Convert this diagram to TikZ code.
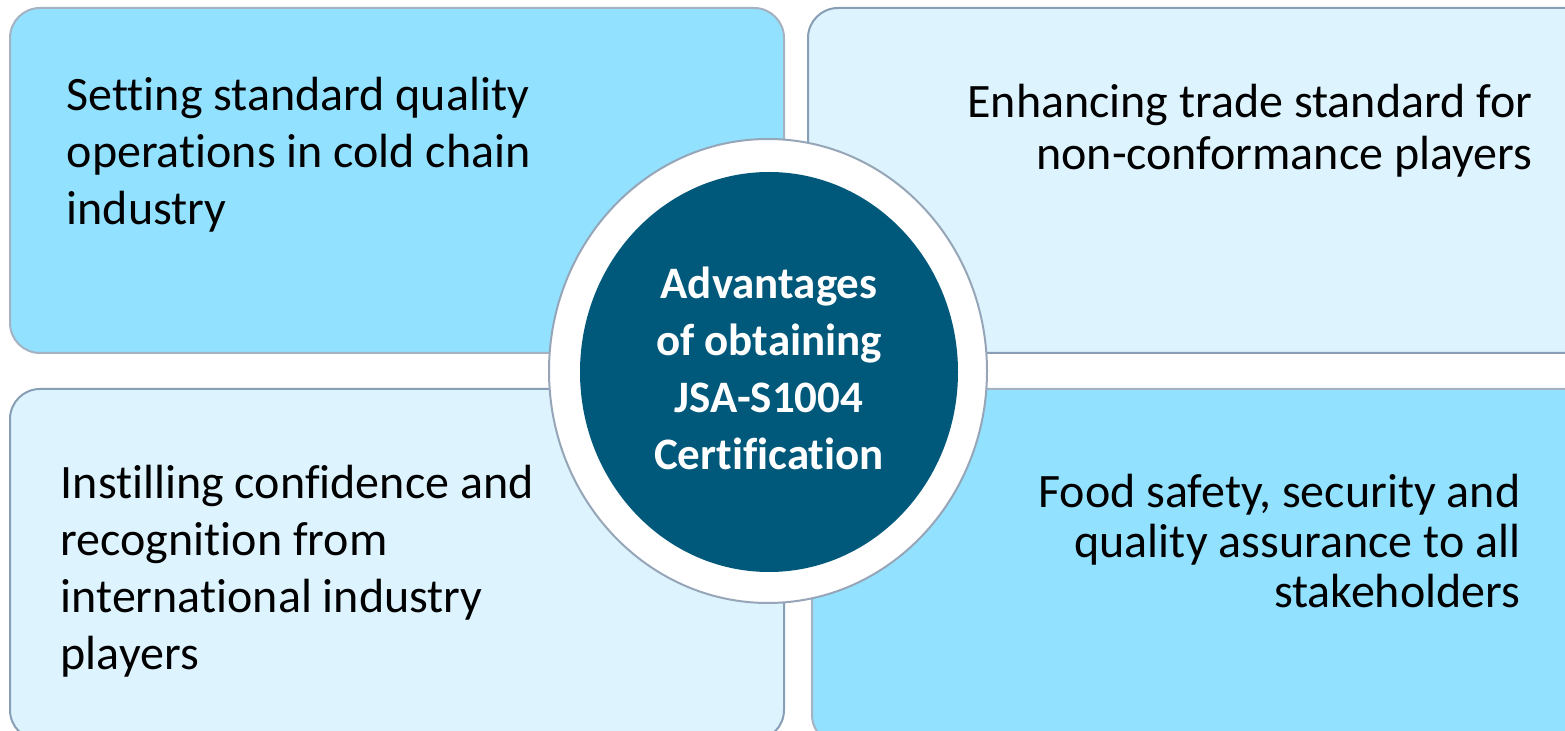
\documentclass[tikz,border=0pt]{standalone}
\usepackage{fontspec}
\setmainfont{Carlito}[Ligatures={NoCommon}]

\tikzset{every picture/.style={line width=0.75pt}}

\begin{document}
\begin{tikzpicture}[x=0.5pt,y=0.5pt,yscale=-1,xscale=1,
  boxstrong/.style={draw={rgb, 255:red, 164; green, 178; blue, 194}, fill={rgb, 255:red, 146; green, 225; blue, 255}, line width=1pt, rounded corners=15pt},
  boxpale/.style={draw={rgb, 255:red, 136; green, 158; blue, 180}, fill={rgb, 255:red, 221; green, 244; blue, 255}, line width=1pt, rounded corners=15pt},
  boxtext/.style={inner sep=0pt, align=left, font=\fontsize{24}{28.5}\selectfont},
  boxtextr/.style={inner sep=0pt, align=right, font=\fontsize{24}{26}\selectfont}]
%uncomment if require:
\path (0,0) rectangle (1565,731);
\clip (0,0) rectangle (1565,731);

%Shape: Rectangle [id:top left]
\draw [boxstrong] (10,8) rectangle (784,353);
%Shape: Rectangle [id:top right]
\draw [boxpale] (808,8) rectangle (1620,353);
%Shape: Rectangle [id:bottom left]
\draw [boxpale] (10,389) rectangle (784,740);
%Shape: Rectangle [id:bottom right]
\draw [boxstrong] (812,389) rectangle (1620,745);

%Shape: Ellipse [id:ring]
\draw [draw={rgb, 255:red, 150; green, 166; blue, 184}, fill=white, line width=1pt] (768,371) ellipse (219 and 232);
%Shape: Ellipse [id:hub]
\draw [draw=none, fill={rgb, 255:red, 0; green, 88; blue, 122}] (769,372) ellipse (189 and 200);

% Text Node
\node (setting) [boxtext, anchor=base west] at (66,225) {Setting standard quality\\operations in cold chain\\industry};
% Text Node
\node (enhancing) [boxtextr, anchor=base east] at (1533,170) {Enhancing trade standard for\\non-conformance players};
% Text Node
\node (instilling) [boxtext, anchor=base west] at (60,670) {Instilling confidence and\\recognition from\\international industry\\players};
% Text Node
\node (food) [boxtextr, anchor=base east, font=\fontsize{24}{25}\selectfont] at (1521,608) {Food safety, security and\\quality assurance to all\\stakeholders};
% Text Node
\node (advantages) [inner sep=0pt, align=center, anchor=base, text=white, font=\fontsize{22.5}{28.5}\selectfont\bfseries] at (769,470) {Advantages\\of obtaining\\JSA-S1004\\Certification};

\end{tikzpicture}
\end{document}
